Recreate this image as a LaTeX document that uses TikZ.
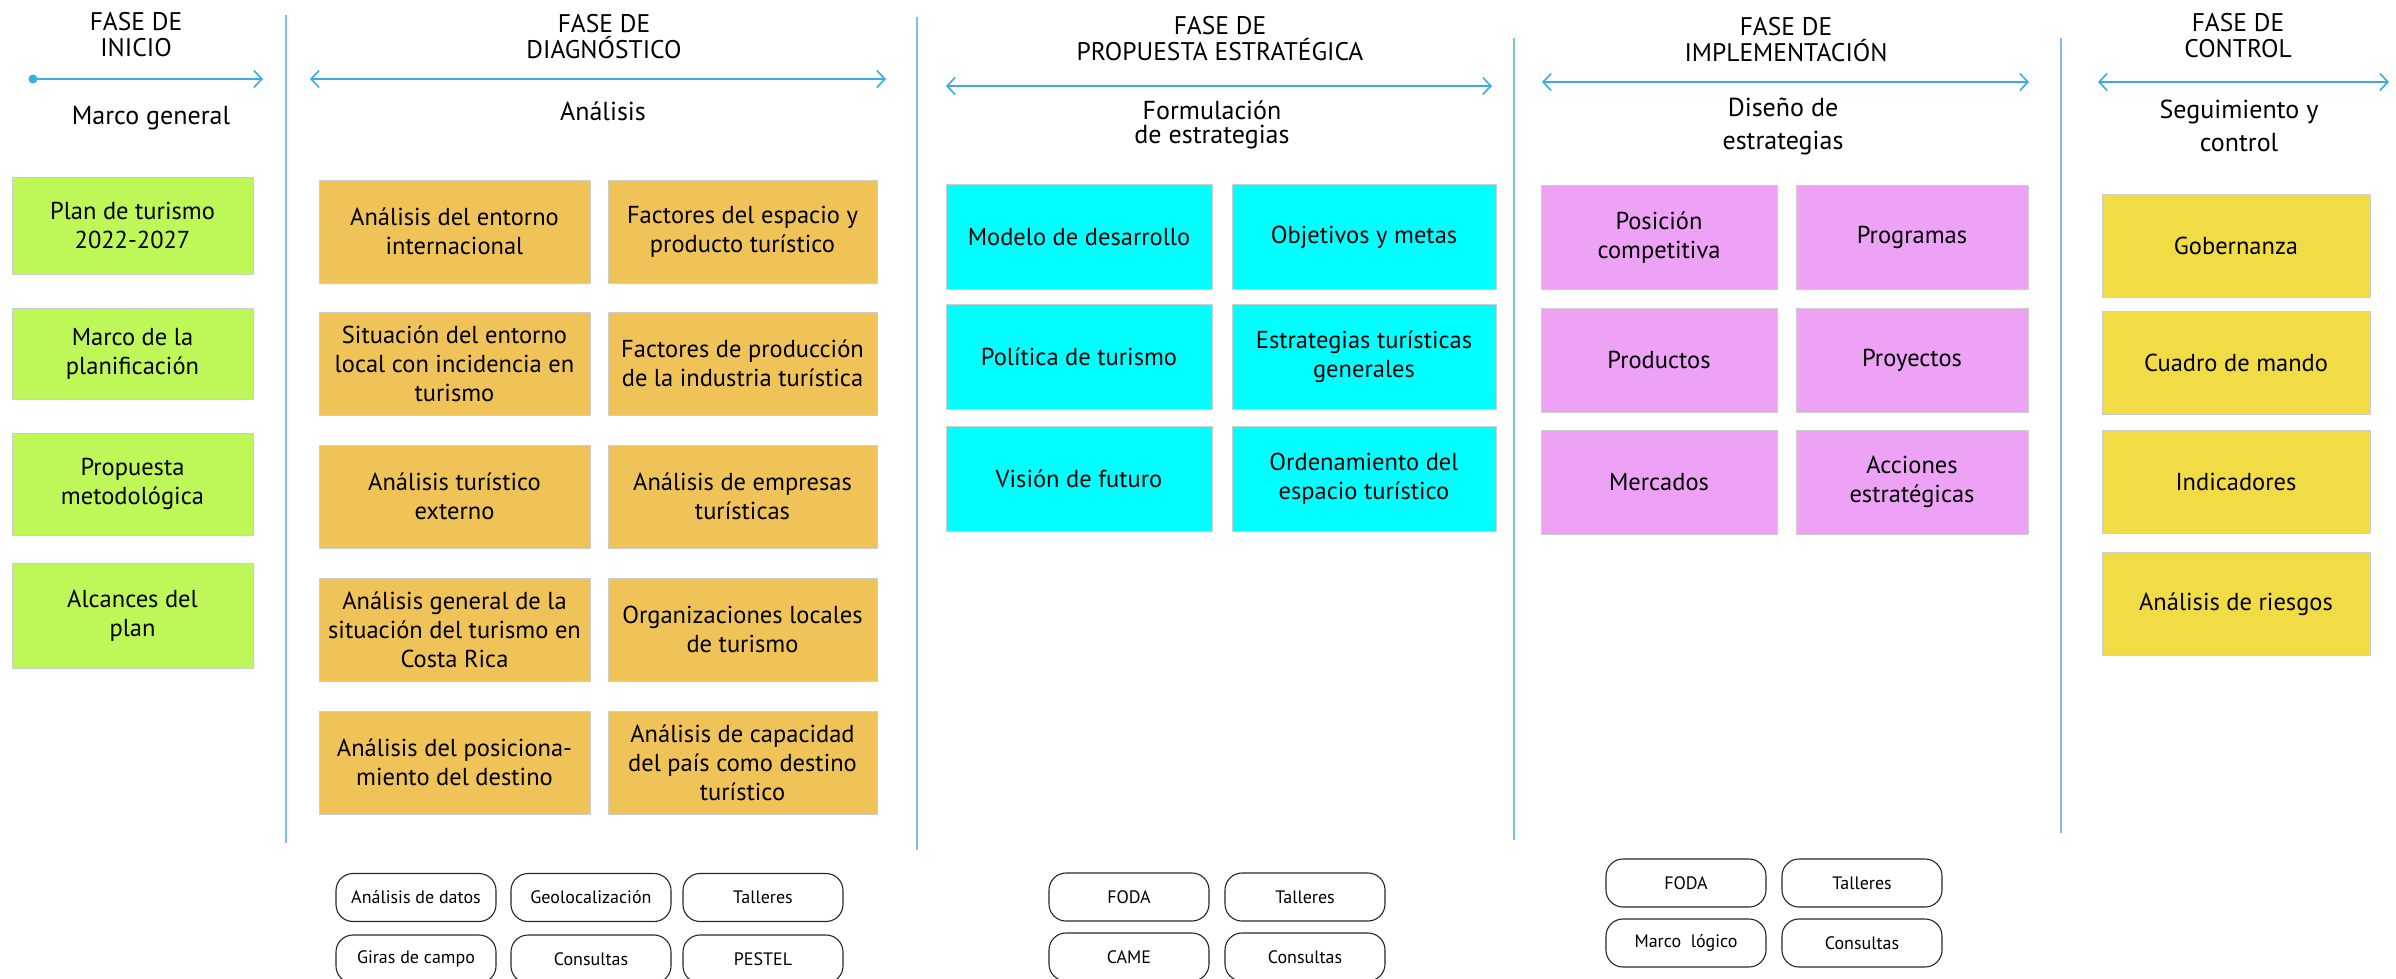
\documentclass[tikz,border=0pt]{standalone}
\usepackage{fontspec}
\setmainfont{PT Sans}
\usepackage{tikz}
\usetikzlibrary{arrows.meta}
\definecolor{mygreen}{RGB}{190,247,88}
\definecolor{myorange}{RGB}{239,195,87}
\definecolor{mycyan}{RGB}{0,255,255}
\definecolor{mypink}{RGB}{238,162,246}
\definecolor{myyellow}{RGB}{242,220,70}
\definecolor{myblue}{RGB}{58,172,226}
\definecolor{mysep}{RGB}{125,192,228}
\definecolor{myedge}{RGB}{205,205,205}
\tikzset{
  phase/.style={align=center, inner sep=0pt, font=\fontsize{25.5}{26}\selectfont},
  stage/.style={align=center, inner sep=0pt, font=\fontsize{26}{33}\selectfont},
  card/.style={rectangle, draw=myedge, line width=0.8pt, align=center,
    inner sep=0pt, font=\fontsize{24.5}{29}\selectfont},
  greencard/.style={card, fill=mygreen, minimum width=241pt},
  orangecard/.style={card, fill=myorange, minimum height=103pt},
  cyancard/.style={card, fill=mycyan, minimum height=105pt},
  pinkcard/.style={card, fill=mypink, minimum height=104pt},
  yellowcard/.style={card, fill=myyellow, minimum width=268pt, minimum height=103pt},
  tool/.style={rectangle, draw=black!85, line width=1.1pt, rounded corners=17pt,
    minimum width=160pt, minimum height=48pt, inner sep=0pt,
    font=\fontsize{18}{21}\selectfont},
  phasearrow/.style={myblue, line width=1.6pt,
    {Straight Barb[length=8pt,width=17pt]}-{Straight Barb[length=8pt,width=17pt]}},
  sepline/.style={mysep, line width=1.5pt}
}
\begin{document}
\begin{tikzpicture}[x=1pt, y=-1pt]
  \useasboundingbox (0,0) rectangle (2396,978);

  % Column separators
  \coordinate (s1t) at (286,15);   \coordinate (s1b) at (286,843);
  \coordinate (s2t) at (917,17);   \coordinate (s2b) at (917,850);
  \coordinate (s3t) at (1514,38);  \coordinate (s3b) at (1514,840);
  \coordinate (s4t) at (2061,38);  \coordinate (s4b) at (2061,833);
  \draw[sepline] (s1t) -- (s1b);
  \draw[sepline] (s2t) -- (s2b);
  \draw[sepline] (s3t) -- (s3b);
  \draw[sepline] (s4t) -- (s4b);

  % Phase headers
  \node[phase] (hIni)  at (136,35)  {FASE DE\\INICIO};
  \node[phase] (hDiag) at (604,37)  {FASE DE\\DIAGNÓSTICO};
  \node[phase] (hProp) at (1220,39) {FASE DE\\PROPUESTA ESTRATÉGICA};
  \node[phase] (hImpl) at (1786,40) {FASE DE\\IMPLEMENTACIÓN};
  \node[phase] (hCtrl) at (2238,36) {FASE DE\\CONTROL};

  % Timeline arrows
  \coordinate (aIniL)  at (33,79);   \coordinate (aIniR)  at (263,79);
  \coordinate (aDiagL) at (310,79);  \coordinate (aDiagR) at (886,79);
  \coordinate (aPropL) at (946,86);  \coordinate (aPropR) at (1492,86);
  \coordinate (aImplL) at (1542,82); \coordinate (aImplR) at (2029,82);
  \coordinate (aCtrlL) at (2098,82); \coordinate (aCtrlR) at (2389,82);
  \fill[myblue] (aIniL) circle (4.5pt);
  \draw[myblue, line width=1.6pt, -{Straight Barb[length=8pt,width=17pt]}] (aIniL) -- (aIniR);
  \draw[phasearrow] (aDiagL) -- (aDiagR);
  \draw[phasearrow] (aPropL) -- (aPropR);
  \draw[phasearrow] (aImplL) -- (aImplR);
  \draw[phasearrow] (aCtrlL) -- (aCtrlR);

  % Stage titles
  \node[stage] (sIni)  at (151,118) {Marco general};
  \node[stage] (sDiag) at (603,111) {Análisis};
  \node[stage, font=\fontsize{26}{24}\selectfont] (sProp) at (1212,125) {Formulación\\de estrategias};
  \node[stage] (sImpl) at (1783,126) {Diseño de\\estrategias};
  \node[stage] (sCtrl) at (2239,126) {Seguimiento y\\control};

  % Inicio
  \node[greencard, minimum height=97pt]  (ini1) at (132.5,225.5) {Plan de turismo\\2022-2027};
  \node[greencard, minimum height=91pt]  (ini2) at (132.5,353.5) {Marco de la\\planificación};
  \node[greencard, minimum height=102pt] (ini3) at (132.5,484)   {Propuesta\\metodológica};
  \node[greencard, minimum height=105pt] (ini4) at (132.5,615.5) {Alcances del\\plan};

  % Diagnostico
  \node[orangecard, minimum width=271pt] (diagL1) at (454.5,231.5) {Análisis del entorno\\internacional};
  \node[orangecard, minimum width=271pt] (diagL2) at (454.5,363.5) {Situación del entorno\\local con incidencia en\\turismo};
  \node[orangecard, minimum width=271pt] (diagL3) at (454.5,496.5) {Análisis turístico\\externo};
  \node[orangecard, minimum width=271pt] (diagL4) at (454.5,629.5) {Análisis general de la\\situación del turismo en\\Costa Rica};
  \node[orangecard, minimum width=271pt] (diagL5) at (454.5,762.5) {Análisis del posiciona-\\miento del destino};
  \node[orangecard, minimum width=269pt] (diagR1) at (742.5,231.5) {Factores del espacio y\\producto turístico};
  \node[orangecard, minimum width=269pt] (diagR2) at (742.5,363.5) {Factores de producción\\de la industria turística};
  \node[orangecard, minimum width=269pt] (diagR3) at (742.5,496.5) {Análisis de empresas\\turísticas};
  \node[orangecard, minimum width=269pt] (diagR4) at (742.5,629.5) {Organizaciones locales\\de turismo};
  \node[orangecard, minimum width=269pt] (diagR5) at (742.5,762.5) {Análisis de capacidad\\del país como destino\\turístico};

  % Propuesta estrategica
  \node[cyancard, minimum width=266pt] (propL1) at (1079,237) {Modelo de desarrollo};
  \node[cyancard, minimum width=266pt] (propL2) at (1079,357) {Política de turismo};
  \node[cyancard, minimum width=266pt] (propL3) at (1079,479) {Visión de futuro};
  \node[cyancard, minimum width=264pt] (propR1) at (1364,237) {Objetivos y metas};
  \node[cyancard, minimum width=264pt] (propR2) at (1364,357) {Estrategias turísticas\\generales};
  \node[cyancard, minimum width=264pt] (propR3) at (1364,479) {Ordenamiento del\\espacio turístico};

  % Implementacion
  \node[pinkcard, minimum width=236pt] (implL1) at (1659,237.5) {Posición\\competitiva};
  \node[pinkcard, minimum width=236pt] (implL2) at (1659,360)   {Productos};
  \node[pinkcard, minimum width=236pt] (implL3) at (1659,482)   {Mercados};
  \node[pinkcard, minimum width=232pt] (implR1) at (1912,237.5) {Programas};
  \node[pinkcard, minimum width=232pt] (implR2) at (1912,360)   {Proyectos};
  \node[pinkcard, minimum width=232pt] (implR3) at (1912,482)   {Acciones\\estratégicas};

  % Control
  \node[yellowcard] (ctrl1) at (2236,245.5) {Gobernanza};
  \node[yellowcard] (ctrl2) at (2236,363)   {Cuadro de mando};
  \node[yellowcard] (ctrl3) at (2236,482)   {Indicadores};
  \node[yellowcard] (ctrl4) at (2236,604)   {Análisis de riesgos};

  % Tools
  \node[tool] (tDiag1) at (416,897.5) {Análisis de datos};
  \node[tool] (tDiag2) at (591,897.5) {Geolocalización};
  \node[tool] (tDiag3) at (763,897.5) {Talleres};
  \node[tool] (tDiag4) at (416,959)   {Giras de campo};
  \node[tool] (tDiag5) at (591,959)   {Consultas};
  \node[tool] (tDiag6) at (763,959)   {PESTEL};

  \node[tool] (tProp1) at (1129,897) {FODA};
  \node[tool] (tProp2) at (1305,897) {Talleres};
  \node[tool] (tProp3) at (1129,957) {CAME};
  \node[tool] (tProp4) at (1305,957) {Consultas};

  \node[tool] (tImpl1) at (1686,883) {FODA};
  \node[tool] (tImpl2) at (1862,883) {Talleres};
  \node[tool] (tImpl3) at (1686,943) {Marco\ \ lógico};
  \node[tool] (tImpl4) at (1862,943) {Consultas};
\end{tikzpicture}
\end{document}
